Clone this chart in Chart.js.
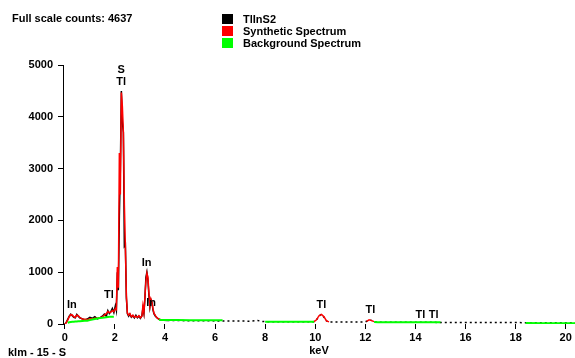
<!DOCTYPE html>
<html>
<head>
<meta charset="utf-8">
<script src="https://cdn.jsdelivr.net/npm/chart.js@4.4.1/dist/chart.umd.min.js"></script>
<style>
  html, body { margin: 0; padding: 0; background: #fff; }
  #wrap { position: relative; width: 575px; height: 358px; overflow: hidden;
          font-family: "Liberation Sans", Arial, sans-serif; font-weight: bold; font-size: 11px; color: #000; }
  #wrap canvas { position: absolute; left: 0; top: 0; }
  .txt { position: absolute; white-space: nowrap; line-height: 12px; }
  .box { position: absolute; width: 11px; height: 10px; }
</style>
</head>
<body>
<div id="wrap">
  <canvas id="c" width="575" height="358"></canvas>
  <div class="txt" style="left:12px; top:12px;">Full scale counts: 4637</div>
  <div class="box" style="left:222px; top:14px; background:#000;"></div>
  <div class="box" style="left:222px; top:26px; background:#ff0000;"></div>
  <div class="box" style="left:222px; top:38px; background:#00ff00;"></div>
  <div class="txt" style="left:243px; top:13px;">TlInS2</div>
  <div class="txt" style="left:243px; top:25px;">Synthetic Spectrum</div>
  <div class="txt" style="left:243px; top:37px;">Background Spectrum</div>
  <div class="txt" style="left:8px; top:346px;">klm - 15 - S</div>
</div>
<script>
// ---- data ----
const kev = [
  0.00,0.06,0.12,0.18,0.24,0.30,0.36,0.42,0.48,0.54,0.60,0.70,0.80,0.90,1.00,1.10,1.20,1.30,1.40,1.50,
  1.58,1.66,1.72,1.78,1.84,1.90,1.96,2.02,2.06,2.10,2.14,2.18,2.22,2.26,2.30,2.34,2.38,2.42,2.46,2.50,
  2.55,2.60,2.66,2.72,2.78,2.84,2.90,2.96,3.02,3.08,3.12,3.16,3.20,3.24,3.28,3.32,3.36,3.40,3.44,3.48,
  3.52,3.56,3.62,3.68,3.76,3.85,3.95,4.10,4.50,5.00,5.50,6.00,6.30,6.60,7.00,7.40,7.70,7.85,8.00,8.50,
  9.00,9.50,9.95,10.05,10.15,10.25,10.35,10.45,10.55,11.00,11.50,11.90,12.05,12.15,12.25,12.35,12.50,13.00,13.50,14.00,
  14.50,15.00,15.10,15.50,16.00,16.50,17.00,17.50,18.00,18.40,19.00,19.50,20.00,20.40
];
const tlins2 = [
  0,30,90,150,190,160,130,120,185,150,120,100,80,95,130,110,140,100,120,150,
  190,150,260,200,240,300,220,350,260,1000,650,2100,3000,4500,3900,3700,1500,1530,500,200,
  150,190,130,160,120,170,120,150,110,160,300,200,500,900,1000,850,550,330,470,430,
  280,200,150,120,90,80,70,68,66,64,62,60,59,58,56,55,68,52,46,45,
  44,43,45,80,150,190,130,60,40,40,40,40,50,75,70,45,36,35,34,33,
  32,31,31,30,29,29,28,28,27,26,25,24,23,22
];
const synthetic = [
  0,25,80,140,180,175,140,130,170,160,125,95,90,85,100,100,110,110,120,135,
  170,200,240,220,230,260,240,300,280,1100,700,3300,2500,4470,4200,3700,2300,1500,550,210,
  170,200,140,170,130,150,130,160,120,150,350,220,520,820,980,900,600,350,480,420,
  300,210,160,120,95,80,null,null,null,null,null,null,null,null,null,null,null,null,null,null,
  null,null,45,80,160,185,140,60,40,null,null,null,50,80,65,45,null,null,null,null,
  null,null,null,null,null,null,null,null,null,null,null,null,null,null
];
const background = [
  null,null,25,35,40,45,45,50,50,55,55,60,62,65,75,85,95,105,115,120,
  125,130,135,140,140,140,140,null,null,null,null,null,null,null,null,null,null,null,null,null,
  null,null,null,null,null,null,null,null,null,null,null,null,null,null,null,null,null,null,null,null,
  null,null,null,null,80,78,77,76,75,74,73,72,71,null,null,null,null,null,45,45,
  44,43,43,null,null,null,null,null,null,null,null,null,null,null,null,38,36,35,34,33,
  33,33,null,null,null,null,null,null,null,17,16,15,14,14
];
const xTicks = [0,2,4,6,8,10,12,14,16,18,20];
const yTicks = [0,1000,2000,3000,4000,5000];
const peakLabels = [
  {t:'In', k:0.28, c:370},
  {t:'Tl', k:1.76, c:560},
  {t:'S',  k:2.25, c:4910},
  {t:'Tl', k:2.25, c:4680},
  {t:'In', k:3.27, c:1185},
  {t:'In', k:3.45, c:400},
  {t:'Tl', k:10.25, c:370},
  {t:'Tl', k:12.2, c:270},
  {t:'Tl', k:14.2, c:175},
  {t:'Tl', k:14.73, c:175}
];

const FONT = {family: '"Liberation Sans", Arial, sans-serif', size: 11, weight: 'bold'};
Chart.defaults.font.family = FONT.family;
Chart.defaults.font.size = 11;
Chart.defaults.font.weight = 'bold';
Chart.defaults.color = '#000';

const pts = arr => kev.map((k,i) => ({x:k, y:arr[i]}));

const peakLabelPlugin = {
  id: 'peakLabels',
  afterDatasetsDraw(chart) {
    const {ctx, scales} = chart;
    ctx.save();
    ctx.font = 'bold 11px ' + FONT.family;
    ctx.fillStyle = '#000';
    ctx.textAlign = 'center';
    ctx.textBaseline = 'middle';
    peakLabels.forEach(p => {
      ctx.fillText(p.t, scales.x.getPixelForValue(p.k), scales.y.getPixelForValue(p.c));
    });
    ctx.restore();
  }
};

new Chart(document.getElementById('c'), {
  type: 'line',
  data: {
    datasets: [
      {label:'TlInS2', data: pts(tlins2), borderColor:'#000', borderWidth:1.5, order:2,
       segment: { borderDash: ctx => (ctx.p0.parsed.x >= 4 ? [2,3] : undefined) }},
      {label:'Synthetic Spectrum', data: pts(synthetic), borderColor:'#ff0000', borderWidth:1.5, order:1},
      {label:'Background Spectrum', data: pts(background), borderColor:'#00ff00', borderWidth:2, order:0}
    ]
  },
  options: {
    responsive: false,
    animation: false,
    devicePixelRatio: 1,
    spanGaps: false,
    elements: { point: { radius: 0 }, line: { tension: 0 } },
    layout: { padding: { top: 65, right: 0, left: 0, bottom: 0 } },
    plugins: { legend: { display: false }, tooltip: { enabled: false } },
    scales: {
      x: {
        type: 'linear', min: -0.07, max: 20.37,
        afterBuildTicks: ax => { ax.ticks = xTicks.map(v => ({value: v})); },
        afterFit: ax => { ax.height = 34; },
        grid: { display: true, drawOnChartArea: false, drawTicks: true, tickLength: 5, color: '#000', lineWidth: 1 },
        border: { display: false },
        ticks: { padding: 2, maxRotation: 0, font: FONT, color: '#000', callback: v => String(v) },
        title: { display: true, text: 'keV', font: FONT, color: '#000', padding: { top: 0, bottom: 0 } }
      },
      y: {
        type: 'linear', min: 0, max: 5000,
        afterBuildTicks: ax => { ax.ticks = yTicks.map(v => ({value: v})); },
        afterFit: ax => { ax.width = 63; },
        grid: { display: true, drawOnChartArea: false, drawTicks: true, tickLength: 5, color: '#000', lineWidth: 1 },
        border: { display: true, color: '#000', width: 1 },
        ticks: { padding: 5, font: FONT, color: '#000', callback: v => String(v) }
      }
    }
  },
  plugins: [peakLabelPlugin]
});
</script>
</body>
</html>
